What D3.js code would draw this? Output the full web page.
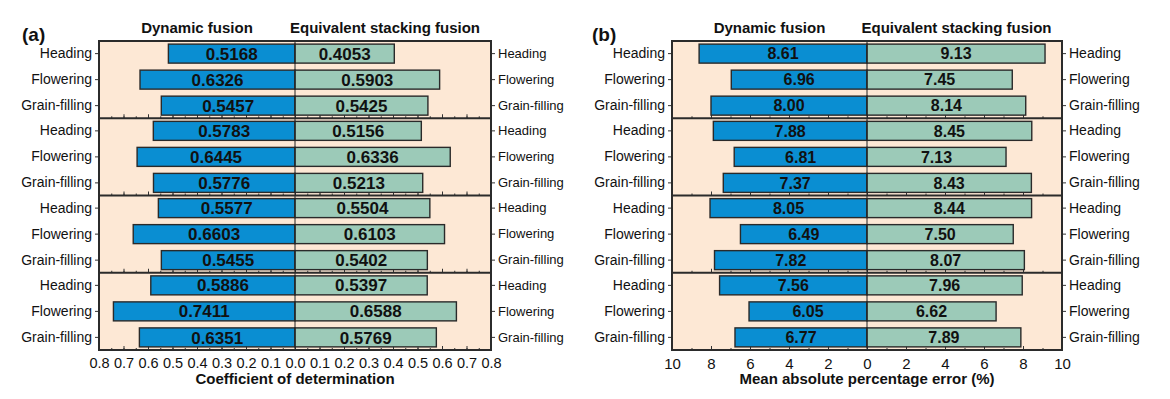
<!DOCTYPE html>
<html lang="en">
<head>
<meta charset="UTF-8">
<title>Fusion comparison</title>
<style>
body { margin: 0; background: #fff; }
svg text { font-family: "Liberation Sans", Arial, sans-serif; fill: #111; }
.frame { fill: none; stroke: #2b2b2b; stroke-width: 2; }
.sep { stroke: #2b2b2b; stroke-width: 2; }
.zero { stroke: #222; stroke-width: 1; }
.bar { stroke: #2a2a2a; stroke-width: 1.4; }
.axis path { display: none; }
.axis line { stroke: #333; stroke-width: 1; }
.val { font-weight: 700; }
.title { font-weight: 700; font-size: 15px; }
</style>
</head>
<body>
<script src="https://d3js.org/d3.v7.min.js"></script>
<script>
// stages repeat in each of the 4 blocks
var stages = ["Heading", "Flowering", "Grain-filling"];
var blocks = [0, 1, 2, 3];

// coefficient of determination, block by block
var r2Dynamic = [0.5168, 0.6326, 0.5457, 0.5783, 0.6445, 0.5776, 0.5577, 0.6603, 0.5455, 0.5886, 0.7411, 0.6351];
var r2Stacking = [0.4053, 0.5903, 0.5425, 0.5156, 0.6336, 0.5213, 0.5504, 0.6103, 0.5402, 0.5397, 0.6588, 0.5769];

// mean absolute percentage error (%)
var mapeDynamic = [8.61, 6.96, 8.00, 7.88, 6.81, 7.37, 8.05, 6.49, 7.82, 7.56, 6.05, 6.77];
var mapeStacking = [9.13, 7.45, 8.14, 8.45, 7.13, 8.43, 8.44, 7.50, 8.07, 7.96, 6.62, 7.89];

var width = 1170, height = 399;
var plotTop = 41, plotBottom = 350;

var svg = d3.select("body").append("svg")
    .attr("width", width)
    .attr("height", height);

function drawPanel(cfg) {
  var g = svg.append("g");
  var x = d3.scaleLinear().domain([-cfg.max, cfg.max]).range([cfg.x0, cfg.x1]);
  var by = d3.scaleBand().domain(blocks).range([plotTop, plotBottom]);
  var sy = d3.scaleBand().domain(stages).range([0, by.bandwidth()])
      .paddingInner(0.27).paddingOuter(0.12);

  g.append("rect")
      .attr("x", cfg.x0).attr("y", plotTop)
      .attr("width", cfg.x1 - cfg.x0).attr("height", plotBottom - plotTop)
      .attr("fill", "#fde8d5");

  var rows = [];
  blocks.forEach(function(b) {
    stages.forEach(function(s, i) {
      rows.push({ block: b, stage: s, dyn: cfg.dyn[b * 3 + i], stk: cfg.stk[b * 3 + i] });
    });
  });

  // inward ticks along the bottom of each block
  blocks.forEach(function(b) {
    var yb = by(b) + by.bandwidth();
    g.append("g").attr("class", "axis")
        .attr("transform", "translate(0," + yb + ")")
        .call(d3.axisTop(x).tickValues(cfg.minor).tickSize(2).tickFormat(""));
    g.append("g").attr("class", "axis")
        .attr("transform", "translate(0," + yb + ")")
        .call(d3.axisTop(x).tickValues(cfg.major).tickSize(4).tickFormat(""));

    // category axes, ticks outward
    g.append("g").attr("class", "axis")
        .attr("transform", "translate(" + cfg.x0 + "," + by(b) + ")")
        .call(d3.axisLeft(sy).tickSize(4).tickPadding(3))
        .selectAll("text").style("font-size", "14px");
    g.append("g").attr("class", "axis")
        .attr("transform", "translate(" + cfg.x1 + "," + by(b) + ")")
        .call(d3.axisRight(sy).tickSize(4).tickPadding(3))
        .selectAll("text").style("font-size", cfg.rightFont);
  });

  var bar = g.selectAll(".row").data(rows).enter().append("g")
      .attr("transform", function(d) { return "translate(0," + (by(d.block) + sy(d.stage)) + ")"; });

  bar.append("rect").attr("class", "bar")
      .attr("x", function(d) { return x(-d.dyn); })
      .attr("width", function(d) { return x(0) - x(-d.dyn); })
      .attr("height", sy.bandwidth())
      .attr("fill", "#0a8ed2");
  bar.append("rect").attr("class", "bar")
      .attr("x", x(0))
      .attr("width", function(d) { return x(d.stk) - x(0); })
      .attr("height", sy.bandwidth())
      .attr("fill", "#9ccab8");

  bar.append("text").attr("class", "val")
      .attr("x", function(d) { return (x(-d.dyn) + x(0)) / 2; })
      .attr("y", sy.bandwidth() / 2)
      .attr("dy", "0.36em")
      .attr("text-anchor", "middle")
      .style("font-size", cfg.valFont)
      .text(function(d) { return cfg.fmt(d.dyn); });
  bar.append("text").attr("class", "val")
      .attr("x", function(d) { return (x(d.stk) + x(0)) / 2; })
      .attr("y", sy.bandwidth() / 2)
      .attr("dy", "0.36em")
      .attr("text-anchor", "middle")
      .style("font-size", cfg.valFont)
      .text(function(d) { return cfg.fmt(d.stk); });

  g.append("line").attr("class", "zero")
      .attr("x1", x(0)).attr("x2", x(0))
      .attr("y1", plotTop).attr("y2", plotBottom);

  blocks.slice(1).forEach(function(b) {
    g.append("line").attr("class", "sep")
        .attr("x1", cfg.x0).attr("x2", cfg.x1)
        .attr("y1", by(b)).attr("y2", by(b));
  });

  // bottom value axis with labels
  var ax = g.append("g").attr("class", "axis")
      .attr("transform", "translate(0," + plotBottom + ")")
      .call(d3.axisBottom(x).tickValues(cfg.labels).tickSize(0).tickPadding(8)
        .tickFormat(function(v) { return cfg.tickFmt(Math.abs(v)); }));
  ax.selectAll("text").style("font-size", cfg.tickFont);

  g.append("rect").attr("class", "frame")
      .attr("x", cfg.x0).attr("y", plotTop)
      .attr("width", cfg.x1 - cfg.x0).attr("height", plotBottom - plotTop);

  g.append("text").attr("class", "title")
      .attr("x", x(-cfg.max / 2)).attr("y", 33)
      .attr("text-anchor", "middle").text("Dynamic fusion");
  g.append("text").attr("class", "title")
      .attr("x", x(cfg.max / 2) - 8).attr("y", 33)
      .attr("text-anchor", "middle").text("Equivalent stacking fusion");
  g.append("text").attr("class", "title")
      .attr("x", x(0)).attr("y", 384)
      .attr("text-anchor", "middle").text(cfg.xTitle);
  g.append("text")
      .attr("x", cfg.labelX).attr("y", 41)
      .style("font-size", "19px").style("font-weight", 700)
      .text(cfg.tag);
}

drawPanel({
  tag: "(a)", labelX: 22,
  x0: 99, x1: 491, max: 0.8,
  dyn: r2Dynamic, stk: r2Stacking,
  major: d3.range(-8, 9).map(function(v) { return v / 10; }),
  minor: d3.range(-16, 17).map(function(v) { return v / 20; }),
  labels: d3.range(-8, 9).map(function(v) { return v / 10; }),
  fmt: d3.format(".4f"), tickFmt: d3.format(".1f"),
  valFont: "17px", rightFont: "13px", tickFont: "14.5px",
  xTitle: "Coefficient of determination"
});

drawPanel({
  tag: "(b)", labelX: 592,
  x0: 672, x1: 1062, max: 10,
  dyn: mapeDynamic, stk: mapeStacking,
  major: d3.range(-10, 11, 2),
  minor: d3.range(-10, 11, 1),
  labels: d3.range(-10, 11, 2),
  fmt: d3.format(".2f"), tickFmt: d3.format("d"),
  valFont: "16px", rightFont: "14px", tickFont: "15px",
  xTitle: "Mean absolute percentage error (%)"
});
</script>
</body>
</html>
